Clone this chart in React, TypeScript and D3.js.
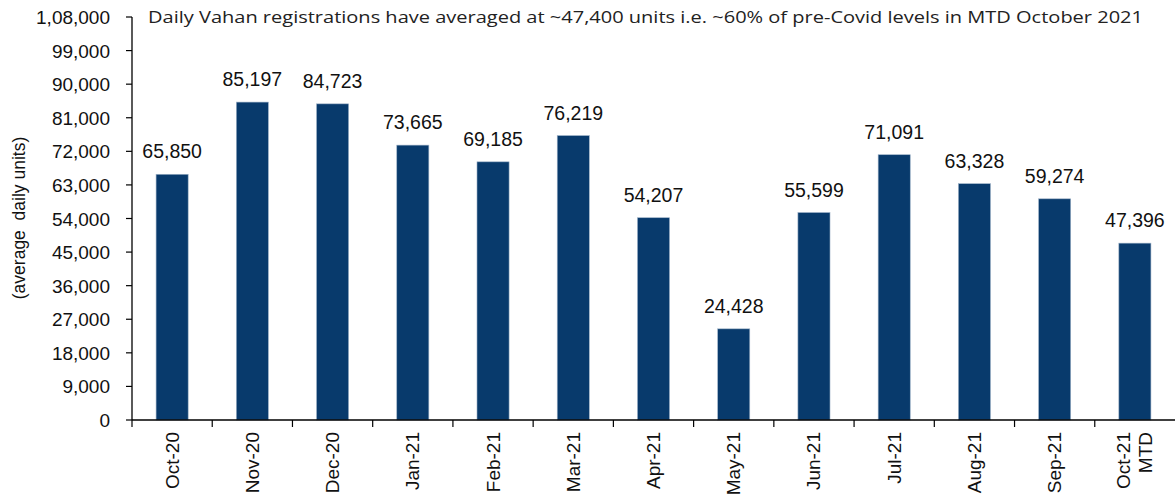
import React from "react";
import * as d3 from "d3";

const categories = ["Oct-20","Nov-20","Dec-20","Jan-21","Feb-21","Mar-21","Apr-21","May-21","Jun-21","Jul-21","Aug-21","Sep-21","Oct-21\nMTD"];
const values = [65850,85197,84723,73665,69185,76219,54207,24428,55599,71091,63328,59274,47396];
const yTicks = [0,9000,18000,27000,36000,45000,54000,63000,72000,81000,90000,99000,108000];
const title = "Daily Vahan registrations have averaged at ~47,400 units i.e. ~60% of pre-Covid levels in MTD October 2021";
const yLabel = "(average  daily units)";

const W = 1175, H = 496;
const x0 = 132, x1 = 1175, yTop = 17, yBot = 420;
const BAR = "#083a6c";
const FONT = "'Liberation Sans', Arial, sans-serif";

const fmtIN = (v: number) => {
  const s = String(v);
  if (s.length <= 3) return s;
  const last3 = s.slice(-3);
  let rest = s.slice(0, -3);
  const parts: string[] = [];
  while (rest.length > 2) { parts.unshift(rest.slice(-2)); rest = rest.slice(0, -2); }
  if (rest) parts.unshift(rest);
  return parts.join(",") + "," + last3;
};

export default function App() {
  const x = d3.scaleBand<string>().domain(categories).range([x0, x1]).paddingInner(0).paddingOuter(0);
  const y = d3.scaleLinear().domain([0, 108000]).range([yBot, yTop]);
  const bw = x.bandwidth() * 0.4;
  return (
    <svg width={W} height={H} style={{ position: "absolute", left: 0, top: 0, background: "#fff" }}>
      <text x={148} y={23} fontFamily="'Open Sans', sans-serif" fontSize={16.5} fill="#222" textLength={995} lengthAdjust="spacingAndGlyphs">{title}</text>
      {categories.map((c, i) => {
        const cx = (x(c) as number) + x.bandwidth() / 2;
        return (
          <g key={c}>
            <rect x={cx - bw / 2} y={y(values[i])} width={bw} height={yBot - y(values[i])} fill={BAR} stroke="#9fb3c8" strokeWidth={0.6} />
            <text x={cx} y={y(values[i]) - 16} textAnchor="middle" fontFamily={FONT} fontSize={19.5} fill="#111">{fmtIN(values[i])}</text>
          </g>
        );
      })}
      {/* y axis */}
      <line x1={x0} x2={x0} y1={yTop} y2={yBot} stroke="#000" strokeWidth={1.3} />
      {yTicks.map(t => (
        <g key={t}>
          <line x1={x0 - 6} x2={x0} y1={y(t)} y2={y(t)} stroke="#000" strokeWidth={1.2} />
          <text x={110} y={y(t) + 7} textAnchor="end" fontFamily={FONT} fontSize={19} fill="#111">{fmtIN(t)}</text>
        </g>
      ))}
      {/* x axis */}
      <line x1={x0} x2={x1} y1={yBot} y2={yBot} stroke="#000" strokeWidth={1.3} />
      {categories.map(c => (
        <line key={"t" + c} x1={x(c) as number} x2={x(c) as number} y1={yBot} y2={yBot + 7} stroke="#000" strokeWidth={1.2} />
      ))}
      {categories.map(c => {
        const cx = (x(c) as number) + x.bandwidth() / 2;
        const lines = c.split("\n");
        return (
          <g key={"l" + c} transform={`translate(${cx},432) rotate(-90)`}>
            {lines.map((ln, j) => (
              <text key={j} x={0} y={6.5 + (j - (lines.length - 1) / 2) * 22} textAnchor="end" fontFamily={FONT} fontSize={19} fill="#111">{ln}</text>
            ))}
          </g>
        );
      })}
      <text transform={`translate(25,218) rotate(-90)`} textAnchor="middle" fontFamily={FONT} fontSize={17.5} fill="#111" style={{ whiteSpace: "pre" }}>{yLabel}</text>
    </svg>
  );
}
